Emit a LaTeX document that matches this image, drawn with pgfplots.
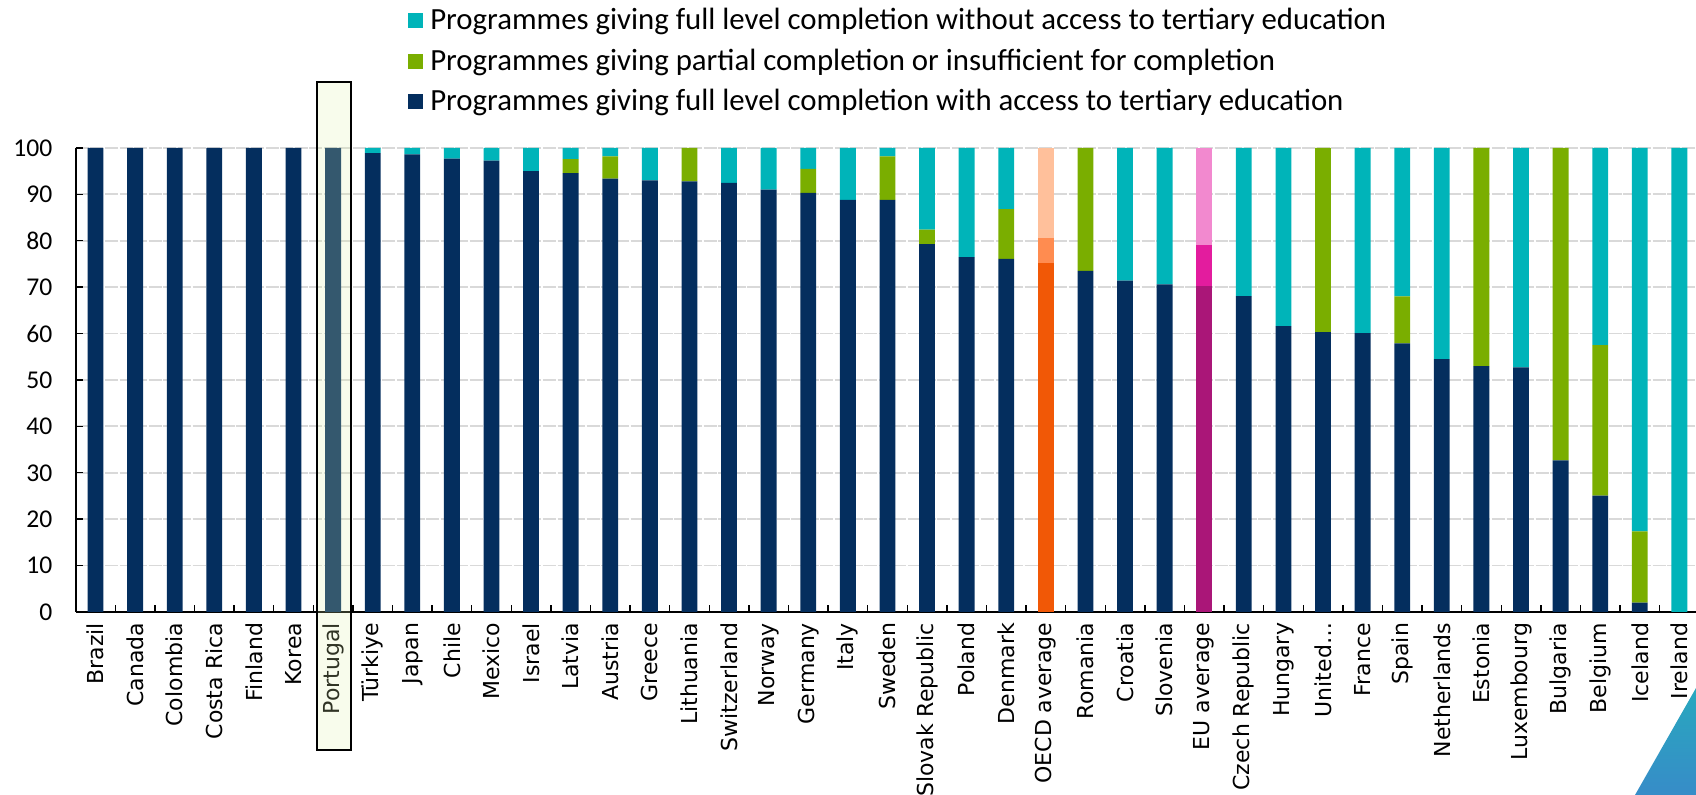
\documentclass[border=0pt]{standalone}
\usepackage{pgfplots}
\pgfplotsset{compat=1.18}
\usepackage{pgfplotstable}
\usepackage{fontspec}
\setmainfont{Carlito}
\newfontfamily\dejavu{DejaVu Sans}

\definecolor{navy}{RGB}{4,46,94}
\definecolor{oteal}{RGB}{0,180,185}
\definecolor{ogreen}{RGB}{122,174,0}
\definecolor{odark}{RGB}{241,88,6}
\definecolor{omid}{RGB}{255,140,80}
\definecolor{olight}{RGB}{255,192,155}
\definecolor{edark}{RGB}{170,22,120}
\definecolor{emid}{RGB}{227,28,158}
\definecolor{elight}{RGB}{242,137,207}
\definecolor{gridgrey}{RGB}{217,217,217}

% nv = with access to tertiary, gr = partial, cy = without access
% od/om/ol = OECD average shades, ed/em/el = EU average shades
\pgfplotstableread{
x  nv    gr    cy    od   om  ol   ed   em  el
0  100   0     0     0    0   0    0    0   0
1  100   0     0     0    0   0    0    0   0
2  100   0     0     0    0   0    0    0   0
3  100   0     0     0    0   0    0    0   0
4  100   0     0     0    0   0    0    0   0
5  100   0     0     0    0   0    0    0   0
6  100   0     0     0    0   0    0    0   0
7  98.9  0     1.1   0    0   0    0    0   0
8  98.6  0     1.4   0    0   0    0    0   0
9  97.7  0     2.3   0    0   0    0    0   0
10 97.3  0     2.7   0    0   0    0    0   0
11 95.0  0     5.0   0    0   0    0    0   0
12 94.6  3.0   2.4   0    0   0    0    0   0
13 93.4  4.8   1.8   0    0   0    0    0   0
14 93.0  0     7.0   0    0   0    0    0   0
15 92.8  7.2   0     0    0   0    0    0   0
16 92.5  0     7.5   0    0   0    0    0   0
17 91.0  0     9.0   0    0   0    0    0   0
18 90.3  5.2   4.5   0    0   0    0    0   0
19 88.8  0     11.2  0    0   0    0    0   0
20 88.8  9.4   1.8   0    0   0    0    0   0
21 79.3  3.1   17.6  0    0   0    0    0   0
22 76.5  0     23.5  0    0   0    0    0   0
23 76.1  10.7  13.2  0    0   0    0    0   0
24 0     0     0     75.3 5.4 19.3 0    0   0
25 73.5  26.5  0     0    0   0    0    0   0
26 71.4  0     28.6  0    0   0    0    0   0
27 70.6  0     29.4  0    0   0    0    0   0
28 0     0     0     0    0   0    70.2 9.0 20.8
29 68.1  0     31.9  0    0   0    0    0   0
30 61.6  0     38.4  0    0   0    0    0   0
31 60.3  39.7  0     0    0   0    0    0   0
32 60.1  0     39.9  0    0   0    0    0   0
33 57.9  10.1  32.0  0    0   0    0    0   0
34 54.5  0     45.5  0    0   0    0    0   0
35 53.0  47.0  0     0    0   0    0    0   0
36 52.7  0     47.3  0    0   0    0    0   0
37 32.7  67.3  0     0    0   0    0    0   0
38 25.1  32.4  42.5  0    0   0    0    0   0
39 2.0   15.4  82.6  0    0   0    0    0   0
40 0     0     100   0    0   0    0    0   0
}\data

\begin{document}
\begin{tikzpicture}
\path[use as bounding box] (-37.85pt,-91.5pt) rectangle (810.15pt,306pt);
\begin{axis}[
    at={(0,0)}, anchor=south west,
    scale only axis,
    width=810.15pt, height=232pt,
    xmin=-0.5, xmax=40.42,
    ymin=0, ymax=100,
    ybar stacked,
    bar width=0.4,
    axis x line*=bottom,
    axis y line*=left,
    axis line style={black, line width=0.8pt},
    tick align=inside,
    major tick length=3.5pt,
    tick style={black, line width=0.7pt},
    ytick={0,10,...,100},
    /pgf/number format/assume math mode=true,
    yticklabel style={font=\fontsize{12.8}{13}\selectfont, inner sep=0pt},
    yticklabel shift=11.5pt,
    ymajorgrids,
    major grid style={draw=gridgrey, line width=0.9pt, dash pattern=on 6.5pt off 0.8pt},
    xtick={0.5,1.5,...,39.5},
    xticklabels={},
    extra x ticks={0,1,...,40},
    extra x tick labels={Brazil,Canada,Colombia,Costa Rica,Finland,Korea,Portugal,Türkiye,Japan,Chile,Mexico,Israel,Latvia,Austria,Greece,Lithuania,Switzerland,Norway,Germany,Italy,Sweden,Slovak Republic,Poland,Denmark,OECD average,Romania,Croatia,Slovenia,EU average,Czech Republic,Hungary,United…,France,Spain,Netherlands,Estonia,Luxembourg,Bulgaria,Belgium,Iceland,Ireland},
    extra x tick style={
        tick style={draw=none},
        xticklabel style={font=\dejavu\fontsize{11}{12}\selectfont, rotate=90, anchor=east, inner sep=0pt},
    },
    xticklabel shift=5.3pt,
    legend image code/.code={\fill[#1] (0pt,-3.75pt) rectangle (7.5pt,3.75pt);},
    reverse legend,
    legend cell align=left,
    legend style={at={(axis description cs:0.205,1.31)}, anchor=north west,
        draw=none, fill=none, inner sep=0pt,
        font=\fontsize{15.4}{17}\selectfont, row sep=4pt,
        /tikz/every odd column/.append style={column sep=1.5pt}},
]
\addplot[fill=navy, draw=none] table[x=x, y=nv] {\data};
\addlegendentry{Programmes giving full level completion with access to tertiary education}
\addplot[fill=ogreen, draw=none] table[x=x, y=gr] {\data};
\addlegendentry{Programmes giving partial completion or insufficient for completion}
\addplot[fill=oteal, draw=none] table[x=x, y=cy] {\data};
\addlegendentry{Programmes giving full level completion without access to tertiary education}
\addplot[fill=odark, draw=none, forget plot] table[x=x, y=od] {\data};
\addplot[fill=omid, draw=none, forget plot] table[x=x, y=om] {\data};
\addplot[fill=olight, draw=none, forget plot] table[x=x, y=ol] {\data};
\addplot[fill=edark, draw=none, forget plot] table[x=x, y=ed] {\data};
\addplot[fill=emid, draw=none, forget plot] table[x=x, y=em] {\data};
\addplot[fill=elight, draw=none, forget plot] table[x=x, y=el] {\data};
\coordinate (pa) at (axis cs:5.6,114.3);
\coordinate (pb) at (axis cs:6.455,-29.7);
\end{axis}
% highlight box round Portugal
\draw[black, line width=0.9pt, fill={rgb,255:red,223;green,241;blue,169}, fill opacity=0.22] (pa) rectangle (pb);
% corner decoration
\shade[top color={rgb,255:red,40;green,168;blue,190}, bottom color={rgb,255:red,55;green,140;blue,200}]
    (779.65pt,-91.5pt) -- (810.15pt,-91.5pt) -- (810.15pt,-38pt) -- cycle;
\end{tikzpicture}
\end{document}
